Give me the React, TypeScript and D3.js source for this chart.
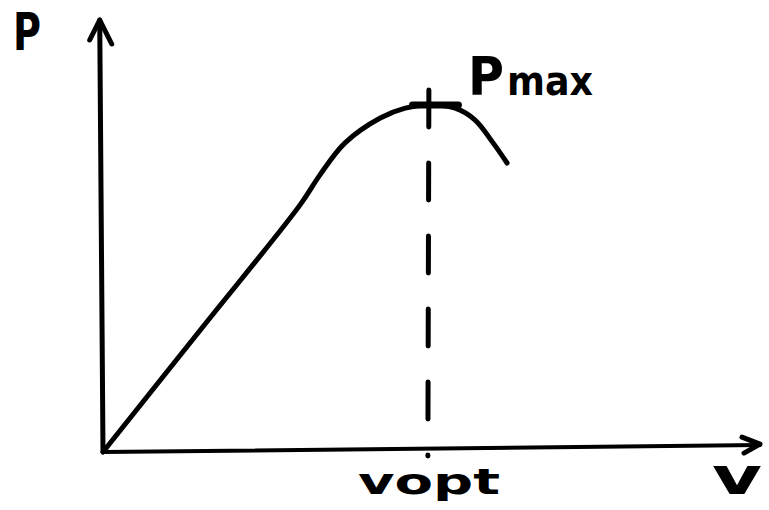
import React from "react";
import * as d3 from "d3";

// Power vs. velocity sketch: linear rise, rounded peak at Pmax, falling tail.
const curveV = [0, 1.5, 3.0, 3.3, 3.68, 4.22, 4.6, 4.98, 5.36, 5.66, 5.94, 6.15];
const curveP = [0, 2.86, 5.72, 6.41, 7.15, 7.73, 7.96, 8.03, 7.96, 7.69, 7.15, 6.69];

const vOpt = 4.96;
const pMax = 8.03;

const axisMax = 10;
const xAxisEndRise = 0.16;

const W = 769;
const H = 510;

export default function App() {
  const x = d3.scaleLinear().domain([0, axisMax]).range([103, 760]);
  const y = d3.scaleLinear().domain([0, axisMax]).range([452, 20]);

  const pts: [number, number][] = curveV.map((v, i) => [v, curveP[i]]);
  const line = d3
    .line<[number, number]>()
    .x((d) => x(d[0]))
    .y((d) => y(d[1]))
    .curve(d3.curveCatmullRom.alpha(0.5));

  const stroke = "#000";
  const sw = 5;

  const xTipX = x(axisMax);
  const xTipY = y(xAxisEndRise);
  const yTipX = x(-0.05);
  const yTipY = y(axisMax);

  return (
    <svg
      width={W}
      height={H}
      style={{ position: "absolute", left: 0, top: 0, background: "#fff" }}
      fontFamily="'DejaVu Sans', sans-serif"
      fontWeight="bold"
    >
      <rect width={W} height={H} fill="#fff" />
      <g stroke={stroke} strokeLinecap="round" strokeLinejoin="round" fill="none">
        {/* y axis with arrow */}
        <line x1={x(0)} y1={y(0)} x2={yTipX} y2={yTipY} strokeWidth={sw} />
        <polyline
          points={`${yTipX - 10},${yTipY + 20} ${yTipX},${yTipY} ${yTipX + 12},${yTipY + 24}`}
          strokeWidth={sw}
        />
        {/* x axis with arrow */}
        <line x1={x(0)} y1={y(0)} x2={xTipX} y2={xTipY} strokeWidth={4} />
        <polyline
          points={`${xTipX - 18},${xTipY - 8} ${xTipX},${xTipY - 1} ${xTipX - 16},${xTipY + 8}`}
          strokeWidth={sw}
        />
        {/* P(v) curve */}
        <path d={line(pts) || ""} strokeWidth={sw} />
        {/* Pmax marker */}
        <line
          x1={x(vOpt - 0.25)}
          y1={y(pMax)}
          x2={x(vOpt + 0.45)}
          y2={y(pMax)}
          strokeWidth={7}
        />
        {/* vertical dashed line at v_opt */}
        <line
          x1={x(vOpt)}
          y1={y(pMax) - 15}
          x2={x(vOpt) - 1}
          y2={y(0) + 4}
          strokeWidth={sw}
          strokeDasharray="37 36"
        />
      </g>
      <g fill={stroke}>
        <text x={13} y={50} fontSize={52} textLength={28} lengthAdjust="spacingAndGlyphs">
          P
        </text>
        <text x={468} y={95} fontSize={54} textLength={36} lengthAdjust="spacingAndGlyphs">
          P
        </text>
        <text x={507} y={95} fontSize={40} textLength={86} lengthAdjust="spacingAndGlyphs">
          max
        </text>
        <text x={358} y={494} fontSize={36} textLength={142} lengthAdjust="spacingAndGlyphs">
          vopt
        </text>
        <text x={712} y={494} fontSize={52} textLength={50} lengthAdjust="spacingAndGlyphs">
          v
        </text>
      </g>
    </svg>
  );
}
